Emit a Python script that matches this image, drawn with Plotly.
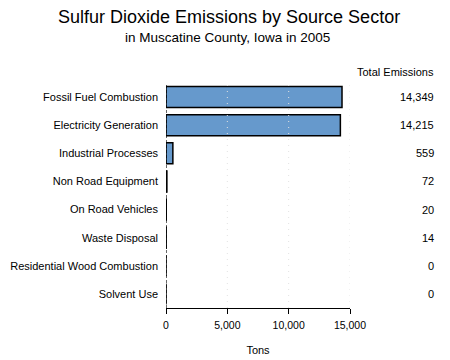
import plotly.graph_objects as go

categories = ["Fossil Fuel Combustion", "Electricity Generation", "Industrial Processes",
              "Non Road Equipment", "On Road Vehicles", "Waste Disposal",
              "Residential Wood Combustion", "Solvent Use"]
emissions = [14349, 14215, 559, 72, 20, 14, 0, 0]
x_ticks = [0, 5000, 10000, 15000]

FONT = "Liberation Sans, Arial, sans-serif"
OFF = 8  # page body margin offset
W, H = 450, 360
# desired on-screen plot box: left 166, right 350, top 83, bottom 308
L = 166 - OFF
T = 83 - OFF
R = W - (350 - OFF)
B = H - (308 - OFF)
pw = W - L - R
ph = H - T - B

def px_x(px):
    return (px - OFF - L) / pw

def px_y(py):
    return (H - B - (py - OFF)) / ph

fig = go.Figure()
fig.add_trace(go.Bar(
    x=emissions, y=categories, orientation="h",
    marker=dict(color="#6699cc", line=dict(color="black", width=1.5)),
    width=0.75, hoverinfo="x+y",
))

shapes = []
for v in x_ticks[1:]:
    shapes.append(dict(type="line", xref="x", yref="paper", x0=v, x1=v, y0=0, y1=1,
                       line=dict(color="#e2e2e2", width=1, dash="1px,5px"), layer="above"))
shapes.append(dict(type="line", xref="x", yref="paper", x0=0, x1=0, y0=0, y1=1,
                   line=dict(color="black", width=1.2, dash="3px,2px"), layer="above"))

annotations = [
    dict(text="Sulfur Dioxide Emissions by Source Sector", xref="paper", yref="paper",
         x=px_x(229), y=px_y(17), xanchor="center", yanchor="middle", showarrow=False,
         font=dict(family=FONT, size=18, color="black")),
    dict(text="in Muscatine County, Iowa in 2005", xref="paper", yref="paper",
         x=px_x(227), y=px_y(37), xanchor="center", yanchor="middle", showarrow=False,
         font=dict(family=FONT, size=13.5, color="black")),
    dict(text="Total Emissions", xref="paper", yref="paper",
         x=px_x(436), y=px_y(72), xanchor="right", yanchor="middle", showarrow=False,
         font=dict(family=FONT, size=11, color="black")),
]
for c, v in zip(categories, emissions):
    annotations.append(dict(text=f"{v:,}", xref="paper", yref="y", x=px_x(436), y=c,
                            xanchor="right", yanchor="middle", showarrow=False,
                            font=dict(family=FONT, size=11, color="black")))

fig.update_layout(
    width=W, height=H,
    margin=dict(l=L, r=R, t=T, b=B, pad=0, autoexpand=False),
    paper_bgcolor="white", plot_bgcolor="white",
    showlegend=False,
    font=dict(family=FONT, size=11, color="black"),
    xaxis=dict(range=[0, 15000], tickvals=x_ticks, tickformat=",", showgrid=False,
               zeroline=False, showline=True, linecolor="black", linewidth=1.2,
               ticks="outside", ticklen=5, tickwidth=1.2, tickcolor="black",
               tickfont=dict(size=10.5), fixedrange=True, automargin=False,
               ticklabelstandoff=2,
               title=dict(text="Tons", font=dict(size=11), standoff=16)),
    yaxis=dict(categoryorder="array", categoryarray=categories, autorange="reversed",
               showgrid=False, zeroline=False, showline=False, ticks="",
               ticklabelstandoff=7, tickfont=dict(size=11), fixedrange=True,
               automargin=False),
    shapes=shapes, annotations=annotations,
    bargap=0.25,
)

fig.write_html("out.html")
